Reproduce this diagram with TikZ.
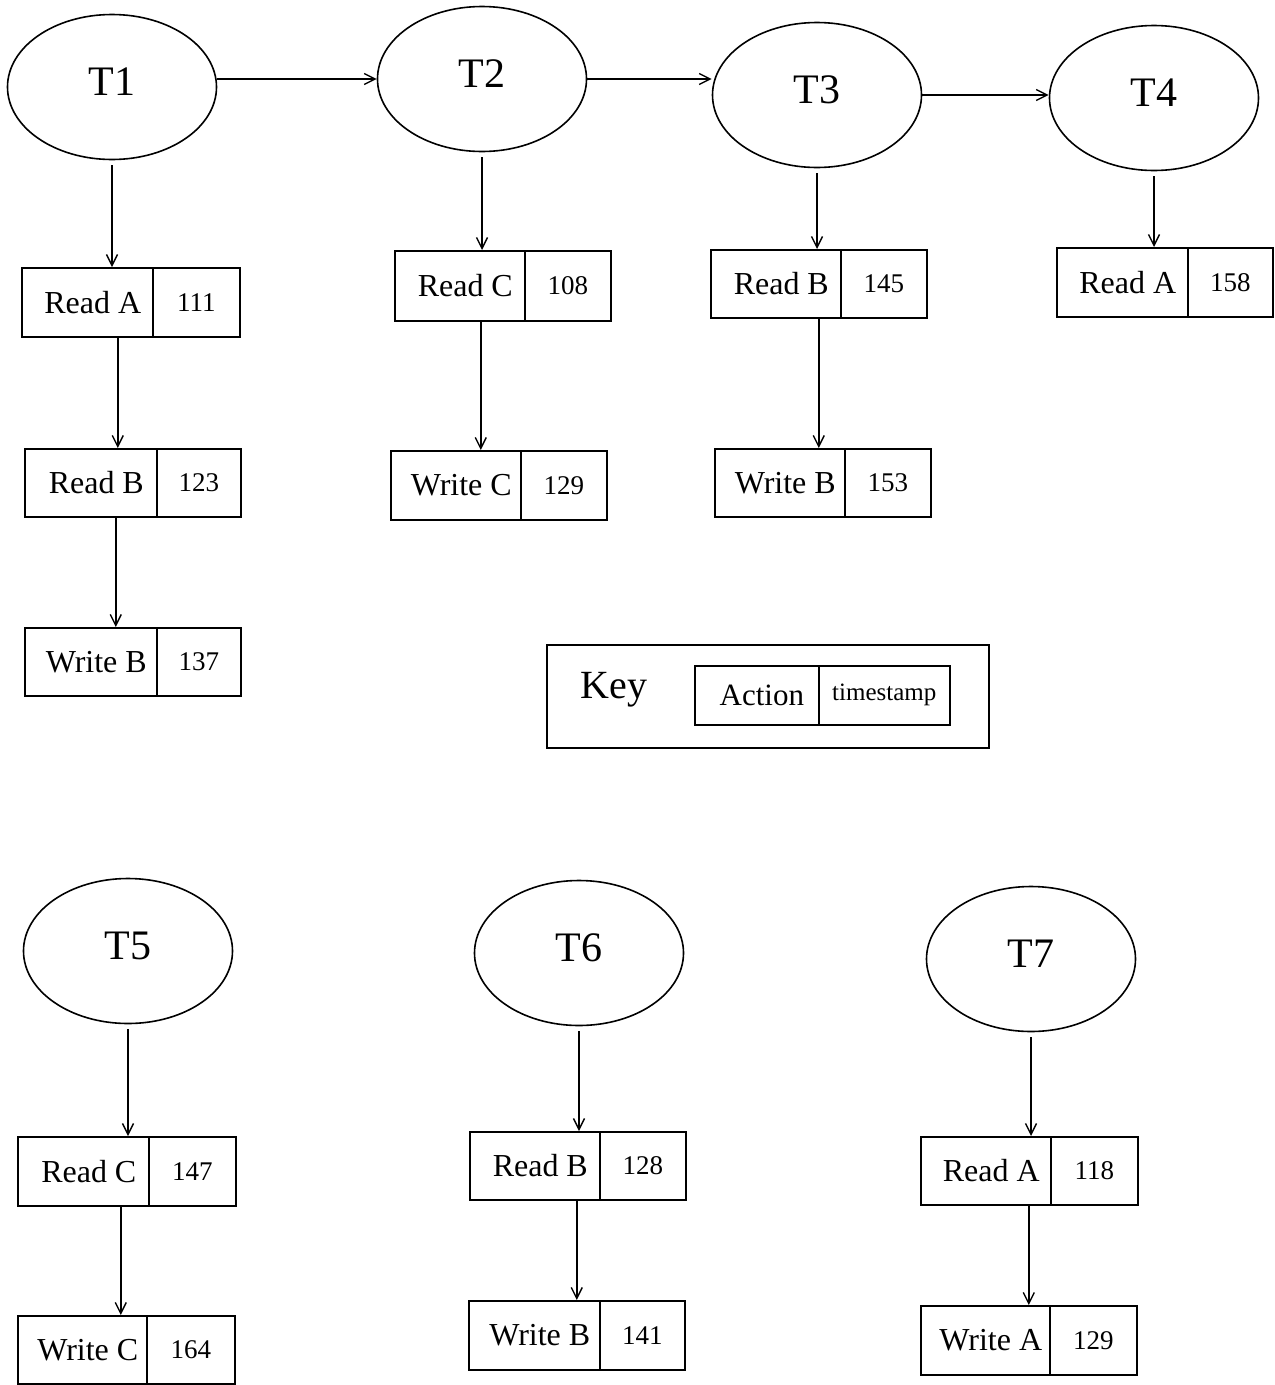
\documentclass[tikz,border=0pt]{standalone}
\usepackage{fontspec}
\setmainfont{Liberation Serif}
\usetikzlibrary{shapes.geometric,arrows.meta}
\newcommand\actbox[8]{%
  \pgfmathsetmacro\wa{#3-#2}\pgfmathsetmacro\wb{#4-#3}\pgfmathsetmacro\hh{#6-#5}%
  \node[actl, minimum width=\wa pt, minimum height=\hh pt, anchor=north west] (#1) at (#2,#5) {\hspace*{11pt}#7};
  \node[actr, minimum width=\wb pt, minimum height=\hh pt, anchor=north west] (#1t) at (#3,#5) {#8};
}
\newcommand\tlab[1]{\raisebox{11pt}{#1}}
\begin{document}
\begin{tikzpicture}[x=1pt,y=-1pt,
  line width=1.6pt,
  tnode/.style={draw, ellipse, minimum width=209pt, minimum height=145pt, inner sep=0pt,
    font=\fontsize{42}{46}\selectfont},
  actl/.style={draw, rectangle, inner sep=0pt, font=\fontsize{32}{36}\selectfont},
  actr/.style={draw, rectangle, inner sep=0pt, font=\fontsize{27}{30}\selectfont},
  arr/.style={-{Straight Barb[length=11pt,width=11pt]}, line width=1.4pt},
  fromell/.style={arr, shorten <=5pt}]
\useasboundingbox (0,0) rectangle (1275,1385);
% transactions
\node[tnode] (t1) at (112,87) {\tlab{T1}};
\node[tnode] (t2) at (482,79) {\tlab{T2}};
\node[tnode] (t3) at (817,95) {\tlab{T3}};
\node[tnode] (t4) at (1154,98) {\tlab{T4}};
\node[tnode] (t5) at (128,951) {\tlab{T5}};
\node[tnode] (t6) at (579,953) {\tlab{T6}};
\node[tnode] (t7) at (1031,959) {\tlab{T7}};
% action boxes
\actbox{ra1}{21}{152}{239}{267}{336}{Read A}{111}
\actbox{rb1}{24}{156}{240}{448}{516}{Read B}{123}
\actbox{wb1}{24}{156}{240}{627}{695}{Write B}{137}
\actbox{rc2}{394}{524}{610}{250}{320}{Read C}{108}
\actbox{wc2}{390}{520}{606}{450}{519}{Write C}{129}
\actbox{rb3}{710}{840}{926}{249}{317}{Read B}{145}
\actbox{wb3}{714}{844}{930}{448}{516}{Write B}{153}
\actbox{ra4}{1056}{1187}{1272}{247}{316}{Read A}{158}
\actbox{rc5}{17}{148}{235}{1136}{1205}{Read C}{147}
\actbox{wc5}{17}{146}{234}{1315}{1383}{Write C}{164}
\actbox{rb6}{469}{599}{685}{1131}{1199}{Read B}{128}
\actbox{wb6}{468}{599}{684}{1300}{1369}{Write B}{141}
\actbox{ra7}{920}{1050}{1137}{1136}{1204}{Read A}{118}
\actbox{wa7}{920}{1049}{1136}{1305}{1374}{Write A}{129}
% key
\node[draw, rectangle, inner sep=0pt, minimum width=442pt, minimum height=103pt, anchor=north west] (key) at (546,644) {};
\node[font=\fontsize{40}{44}\selectfont] (keylbl) at (614,690) {Key};
\node[draw, rectangle, inner sep=0pt, minimum width=124pt, minimum height=59pt, anchor=north west,
  font=\fontsize{31}{34}\selectfont] (keya) at (694,665) {\hspace*{10pt}Action};
\node[draw, rectangle, inner sep=0pt, minimum width=131pt, minimum height=59pt, anchor=north west,
  font=\fontsize{25}{28}\selectfont] (keyt) at (818,665) {timestamp};
% horizontal connectors
\draw[arr] (t1.east |- t2.west) -- (t2.west);
\draw[arr] (t2.east) -- (t3.west |- t2.east);
\draw[arr] (t3.east) -- (t4.west |- t3.east);
% vertical connectors
\draw[fromell] (t1.south) -- (t1.south |- ra1.north);
\draw[arr] ([xshift=30.5pt]ra1.south) -- ([xshift=30.5pt]ra1.south |- rb1.north);
\draw[arr] ([xshift=25pt]rb1.south) -- ([xshift=25pt]rb1.south |- wb1.north);
\draw[fromell] (t2.south) -- (t2.south |- rc2.north);
\draw[arr] ([xshift=21pt]rc2.south) -- ([xshift=21pt]rc2.south |- wc2.north);
\draw[fromell] (t3.south) -- (t3.south |- rb3.north);
\draw[arr] ([xshift=43pt]rb3.south) -- ([xshift=43pt]rb3.south |- wb3.north);
\draw[fromell] (t4.south) -- (t4.south |- ra4.north);
\draw[fromell] (t5.south) -- (t5.south |- rc5.north);
\draw[arr] ([xshift=37.5pt]rc5.south) -- ([xshift=37.5pt]rc5.south |- wc5.north);
\draw[fromell] (t6.south) -- (t6.south |- rb6.north);
\draw[arr] ([xshift=42pt]rb6.south) -- ([xshift=42pt]rb6.south |- wb6.north);
\draw[fromell] (t7.south) -- (t7.south |- ra7.north);
\draw[arr] ([xshift=43pt]ra7.south) -- ([xshift=43pt]ra7.south |- wa7.north);
\end{tikzpicture}
\end{document}
